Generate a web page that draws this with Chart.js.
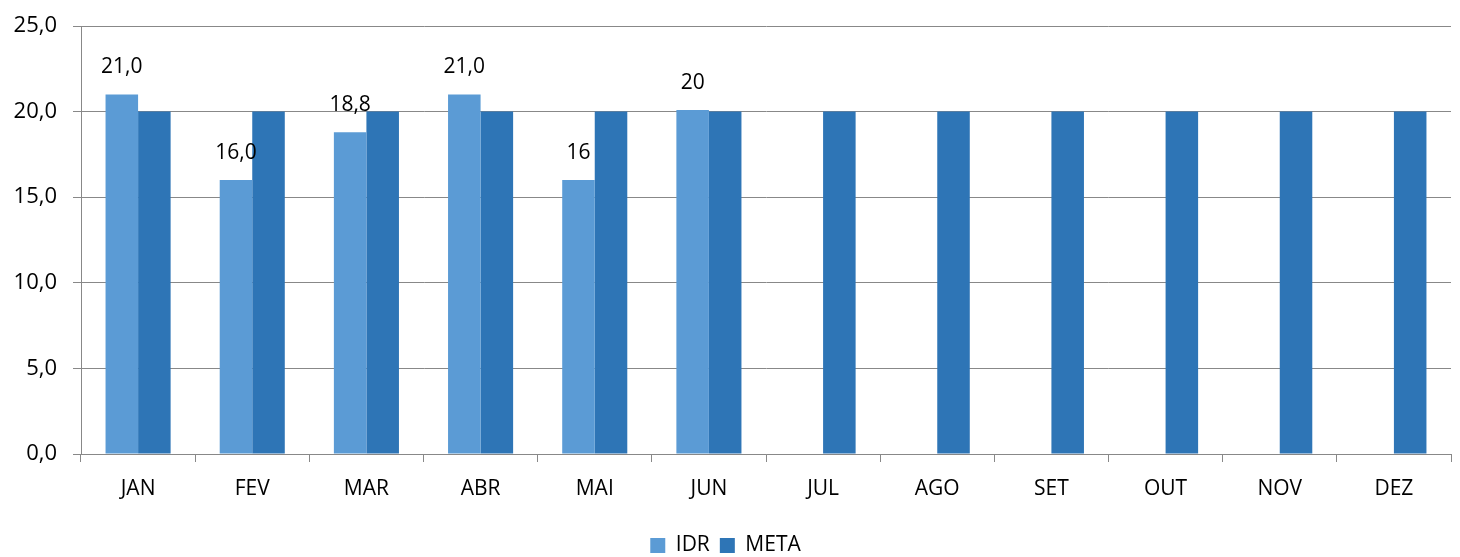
<!DOCTYPE html>
<html>
<head>
<meta charset="utf-8">
<script src="https://cdn.jsdelivr.net/npm/chart.js@4"></script>
<style>
html,body{margin:0;padding:0;background:#fff;}
#wrap{width:1460px;height:557px;position:relative;}
</style>
</head>
<body>
<div id="wrap"><canvas id="c"></canvas></div>
<script>
const categories = ["JAN","FEV","MAR","ABR","MAI","JUN","JUL","AGO","SET","OUT","NOV","DEZ"];
const idrValues = [21.0, 16.0, 18.8, 21.0, 16.0, 20.1, null, null, null, null, null, null];
const idrLabels = ["21,0", "16,0", "18,8", "21,0", "16", "20", "", "", "", "", "", ""];
const metaValues = [20, 20, 20, 20, 20, 20, 20, 20, 20, 20, 20, 20];
const yTicks = [0, 5, 10, 15, 20, 25];

const FONT = "'Open Sans', 'Liberation Sans', sans-serif";

const labelPlugin = {
  id: 'idrLabels',
  afterDatasetsDraw(chart) {
    const ctx = chart.ctx;
    const meta = chart.getDatasetMeta(0);
    ctx.save();
    ctx.font = "21px " + FONT;
    ctx.fillStyle = "#000";
    ctx.textAlign = "center";
    ctx.textBaseline = "middle";
    meta.data.forEach((el, i) => {
      if (idrValues[i] == null || !idrLabels[i]) return;
      ctx.fillText(idrLabels[i], el.x, el.y - 27);
    });
    ctx.restore();
  }
};

new Chart(document.getElementById('c'), {
  type: 'bar',
  data: {
    labels: categories,
    datasets: [
      { label: 'IDR', data: idrValues, backgroundColor: '#5B9BD5', categoryPercentage: 0.57, barPercentage: 1.0 },
      { label: 'META', data: metaValues, backgroundColor: '#2E75B6', categoryPercentage: 0.57, barPercentage: 1.0 }
    ]
  },
  options: {
    responsive: true,
    maintainAspectRatio: false,
    animation: false,
    layout: { padding: { top: 26, right: 9, left: 0, bottom: -9 } },
    plugins: {
      tooltip: { enabled: false },
      legend: {
        position: 'bottom',
        labels: {
          boxWidth: 15, boxHeight: 15, padding: 10,
          color: '#000',
          font: { size: 21, family: FONT }
        }
      }
    },
    scales: {
      x: {
        offset: true,
        grid: { offset: true, drawOnChartArea: false, drawTicks: true, tickLength: 8, color: '#888' },
        border: { color: '#888' },
        ticks: { color: '#000', font: { size: 21, family: FONT }, padding: 14 },
        afterFit(scale) { scale.height = 71; }
      },
      y: {
        min: 0, max: 25,
        afterBuildTicks(scale) { scale.ticks = yTicks.map(v => ({ value: v })); },
        afterFit(scale) { scale.width = 81; scale.paddingTop = 0; },
        grid: { color: '#888', tickLength: 8 },
        border: { color: '#888' },
        ticks: {
          color: '#000', font: { size: 22, family: FONT }, padding: 16,
          callback: v => v.toFixed(1).replace('.', ',')
        }
      }
    }
  },
  plugins: [labelPlugin]
});
</script>
</body>
</html>
